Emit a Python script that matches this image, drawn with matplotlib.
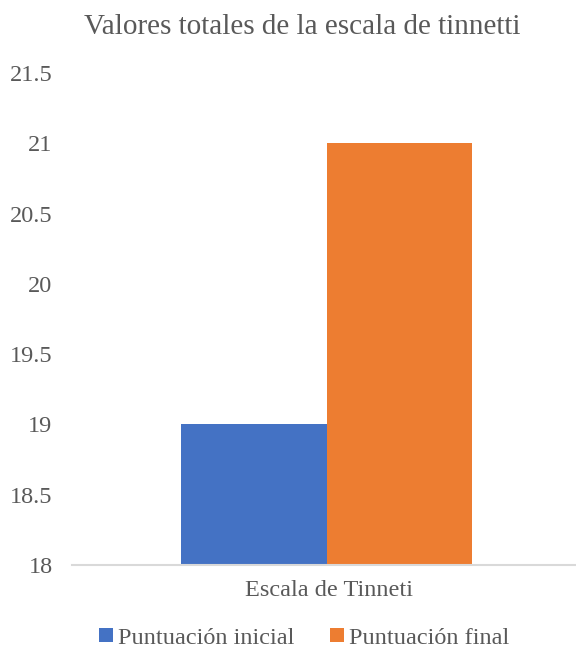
import matplotlib.pyplot as plt

plt.rcParams['font.family'] = ['Liberation Serif', 'DejaVu Serif']

category = "Escala de Tinneti"
series = ["Puntuación inicial", "Puntuación final"]
values = [19, 21]
colors = ["#4472C4", "#ED7D31"]
yticks = [18, 18.5, 19, 19.5, 20, 20.5, 21, 21.5]
ytick_labels = ["18", "18.5", "19", "19.5", "20", "20.5", "21", "21.5"]

fig = plt.figure(figsize=(5.76, 6.55), dpi=100)
ax = fig.add_axes([72 / 576, 1 - 565 / 655, 1 - 72 / 576, (565 - 73) / 655])

w = 0.2887
offsets = [-w / 2, w / 2]
for name, v, c, o in zip(series, values, colors, offsets):
    ax.bar(o + 0.005, v - 18, bottom=18, width=w, color=c, label=name)

ax.set_xlim(-0.5, 0.5)
ax.set_ylim(18, 21.5)
ax.set_yticks(yticks)
ax.set_yticklabels(ytick_labels)
ax.set_xticks([0.01])
ax.set_xticklabels([category])
for s in ["top", "right", "left"]:
    ax.spines[s].set_visible(False)
ax.spines["bottom"].set_color("#D9D9D9")
ax.spines["bottom"].set_linewidth(1.5)
ax.tick_params(axis="both", length=0, labelsize=17.5, labelcolor="#595959")
ax.tick_params(axis="y", pad=14)
ax.tick_params(axis="x", pad=11)

fig.text(0.525, 1 - 27 / 655, "Valores totales de la escala de tinnetti",
         ha="center", va="center", fontsize=21, color="#595959")

fig.legend(loc="center", bbox_to_anchor=(0.528, 1 - 638 / 655), ncol=2,
           frameon=False, fontsize=17.5, labelcolor="#595959",
           handlelength=0.55, handleheight=0.55, handletextpad=0.2,
           columnspacing=1.5)

fig.savefig("out.png", dpi=100)
